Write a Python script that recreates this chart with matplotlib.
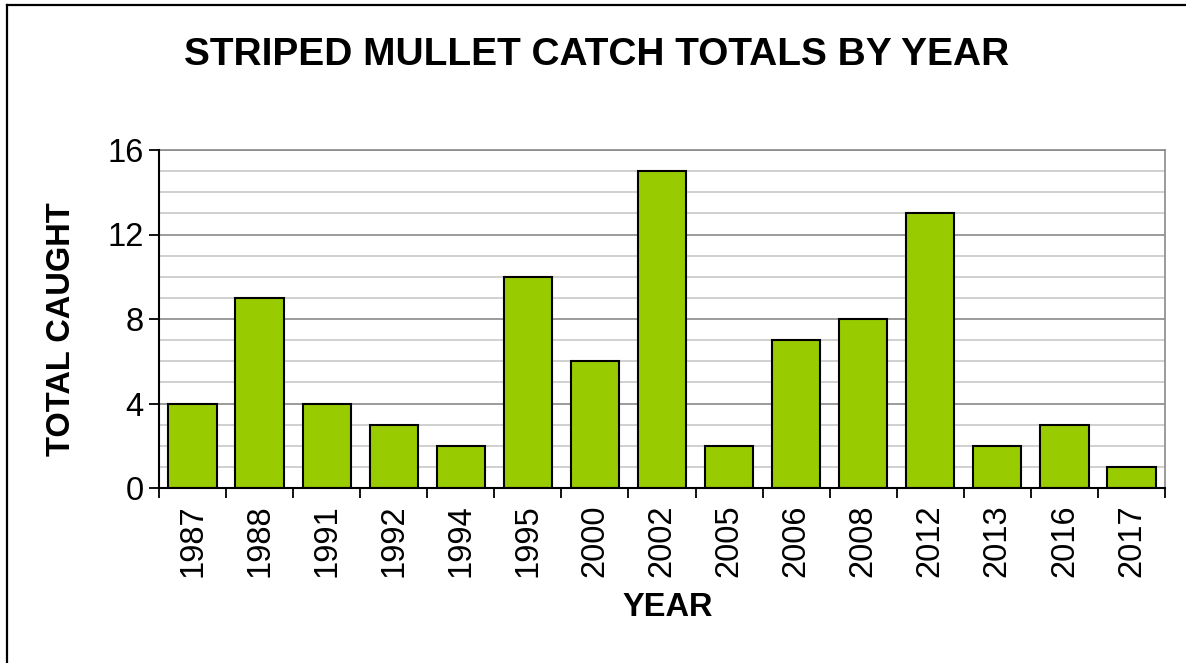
import matplotlib
matplotlib.use("Agg")
import matplotlib.pyplot as plt
from matplotlib.ticker import MultipleLocator, FixedLocator, NullFormatter
from matplotlib.lines import Line2D

years = ["1987", "1988", "1991", "1992", "1994", "1995", "2000", "2002",
         "2005", "2006", "2008", "2012", "2013", "2016", "2017"]
totals = [4, 9, 4, 3, 2, 10, 6, 15, 2, 7, 8, 13, 2, 3, 1]

plt.rcParams['font.family'] = ['Liberation Sans', 'DejaVu Sans']

W, H = 1186, 663
fig = plt.figure(figsize=(W / 100, H / 100), dpi=100)
ax = fig.add_axes([159 / W, 1 - 488 / H, (1165 - 159) / W, (488 - 150) / H])

x = list(range(len(years)))
ax.bar(x, totals, width=0.72, color="#99CC00", edgecolor="black", linewidth=1.5, zorder=3)

ax.set_xlim(-0.5, len(years) - 0.5)
ax.set_ylim(0, 16)

ax.yaxis.set_major_locator(MultipleLocator(4))
ax.yaxis.set_minor_locator(MultipleLocator(1))
ax.grid(which="major", axis="y", color="#8a8a8a", linewidth=1.2, zorder=1)
ax.grid(which="minor", axis="y", color="#c8c8c8", linewidth=1.2, zorder=1)
ax.tick_params(axis="y", which="major", direction="out", length=7, width=1.3,
               labelsize=23.5, pad=4, colors="black")
ax.tick_params(axis="y", which="minor", length=0)

ax.xaxis.set_major_locator(FixedLocator([i - 0.5 for i in range(len(years) + 1)]))
ax.xaxis.set_major_formatter(NullFormatter())
ax.xaxis.set_minor_locator(FixedLocator(x))
ax.set_xticks(x, years, minor=True)
ax.tick_params(axis="x", which="major", direction="out", length=7, width=1.3)
ax.tick_params(axis="x", which="minor", length=0, labelsize=23.5, labelrotation=90, pad=12)

for s in ["left", "bottom"]:
    ax.spines[s].set_color("black")
    ax.spines[s].set_linewidth(1.5)
for s in ["right", "top"]:
    ax.spines[s].set_color("#8a8a8a")
    ax.spines[s].set_linewidth(1.2)
ax.spines["left"].set_zorder(4)
ax.spines["bottom"].set_zorder(4)

fig.text(61 / W, 1 - 329 / H, "TOTAL CAUGHT", fontsize=23.5, fontweight="bold",
         rotation=90, ha="center", va="center")
fig.text(668 / W, 1 - 607 / H, "YEAR", fontsize=23.5, fontweight="bold",
         ha="center", va="center")
fig.text(597 / W, 1 - 55 / H, "STRIPED MULLET CATCH TOTALS BY YEAR", fontsize=28,
         fontweight="bold", ha="center", va="center")

fig.add_artist(Line2D([7 / W, 7 / W], [0, 1 - 5 / H], color="black", linewidth=1.6,
                      transform=fig.transFigure))
fig.add_artist(Line2D([7 / W, 1], [1 - 5 / H, 1 - 5 / H], color="black", linewidth=1.6,
                      transform=fig.transFigure))

fig.savefig("out.png", dpi=100)
